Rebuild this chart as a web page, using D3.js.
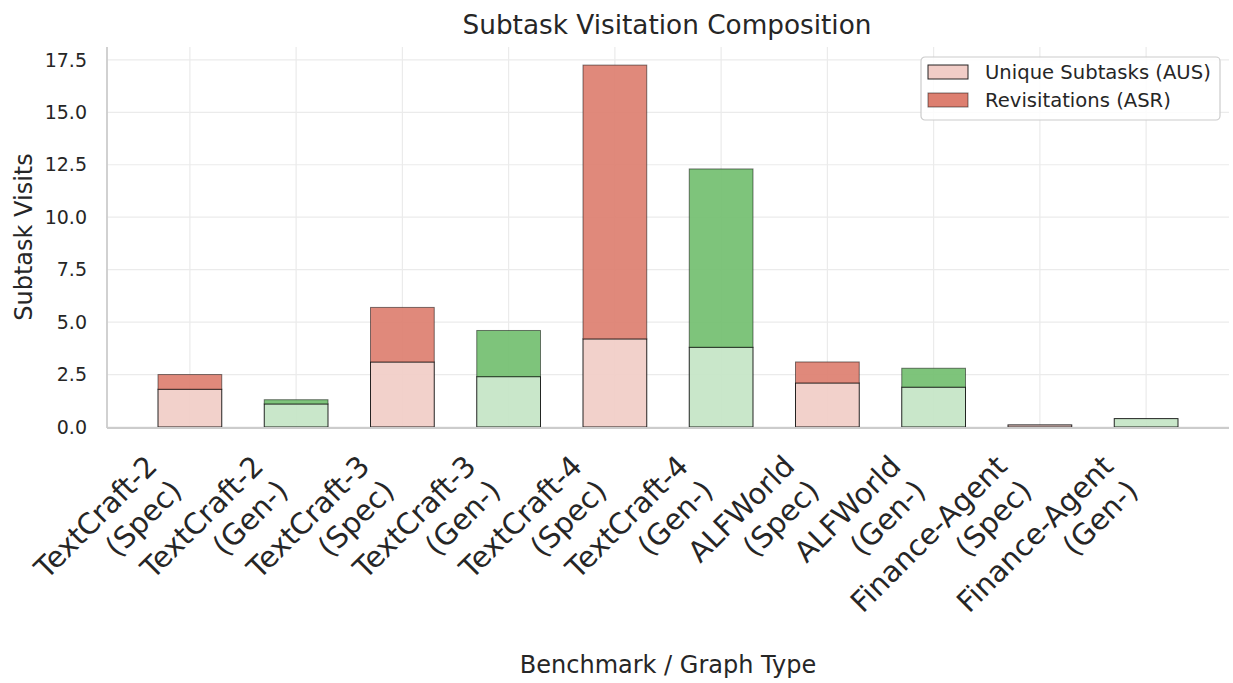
<!DOCTYPE html>
<html>
<head>
<meta charset="utf-8">
<script src="https://cdn.jsdelivr.net/npm/d3@7"></script>
<style>
  body { margin: 0; background: #fff; }
  text { font-family: "DejaVu Sans", sans-serif; fill: #262626; }
</style>
</head>
<body>
<div id="chart"></div>
<script>
// Benchmarks, one bar each
const BENCHMARKS = ['TextCraft-2', 'TextCraft-2', 'TextCraft-3', 'TextCraft-3', 'TextCraft-4',
                    'TextCraft-4', 'ALFWorld', 'ALFWorld', 'Finance-Agent', 'Finance-Agent'];
const GRAPH_TYPES = ['(Spec)', '(Gen-)', '(Spec)', '(Gen-)', '(Spec)', '(Gen-)', '(Spec)', '(Gen-)', '(Spec)', '(Gen-)'];
// Unique subtasks (AUS) and revisitations (ASR), stacked
const UNIQUE = [1.8, 1.1, 3.1, 2.4, 4.2, 3.8, 2.1, 1.9, 0.1, 0.4];
const REVISITS = [0.7, 0.2, 2.6, 2.2, 13.05, 8.5, 1.0, 0.9, 0.0, 0.0];
const Y_TICKS = [0, 2.5, 5, 7.5, 10, 12.5, 15, 17.5];
const LEGEND_LABELS = ['Unique Subtasks (AUS)', 'Revisitations (ASR)'];

const WIDTH = 1233, HEIGHT = 683;
const PLOT = {left: 107, right: 1229, top: 47, bottom: 427};
const BAR_WIDTH = 0.6;

// Colours: [unique, revisit] for Spec and Gen graphs
const COLORS = {
	'(Spec)': ['#f1cdc7', '#dd7f70'],
	'(Gen-)': ['#c4e5c5', '#73bf70']
};
const FILL_OPACITY = 0.92;

const svg = d3.select('#chart').append('svg')
	.attr('width', WIDTH)
	.attr('height', HEIGHT);

const n = BENCHMARKS.length;
const totals = UNIQUE.map((u, i) => u + REVISITS[i]);

// x scale on bar index, matplotlib-like margins
const xPad = (n - 1 + BAR_WIDTH) * 0.05 + BAR_WIDTH / 2;
const xScale = d3.scaleLinear()
	.domain([-xPad, n - 1 + xPad])
	.range([PLOT.left, PLOT.right]);

const yScale = d3.scaleLinear()
	.domain([0, d3.max(totals) * 1.05])
	.range([PLOT.bottom, PLOT.top]);

const bw = xScale(BAR_WIDTH) - xScale(0);

// Grid
svg.append('g')
	.selectAll('line')
	.data(Y_TICKS)
	.enter()
	.append('line')
	.attr('x1', PLOT.left).attr('x2', PLOT.right)
	.attr('y1', d => yScale(d)).attr('y2', d => yScale(d))
	.attr('stroke', '#ebebeb')
	.attr('stroke-width', 1.2);

svg.append('g')
	.selectAll('line')
	.data(d3.range(n))
	.enter()
	.append('line')
	.attr('x1', d => xScale(d)).attr('x2', d => xScale(d))
	.attr('y1', PLOT.top).attr('y2', PLOT.bottom)
	.attr('stroke', '#ebebeb')
	.attr('stroke-width', 1.2);

// Bars: unique at the bottom, revisits on top
const bars = svg.append('g');
bars.selectAll('.unique')
	.data(d3.range(n))
	.enter()
	.append('rect')
	.attr('class', 'unique')
	.attr('x', i => xScale(i) - bw / 2)
	.attr('width', bw)
	.attr('y', i => yScale(UNIQUE[i]))
	.attr('height', i => yScale(0) - yScale(UNIQUE[i]))
	.attr('fill', i => COLORS[GRAPH_TYPES[i]][0])
	.attr('fill-opacity', FILL_OPACITY)
	.attr('stroke', '#000')
	.attr('stroke-opacity', 0.85)
	.attr('stroke-width', 1);

bars.selectAll('.revisit')
	.data(d3.range(n))
	.enter()
	.append('rect')
	.attr('class', 'revisit')
	.attr('x', i => xScale(i) - bw / 2)
	.attr('width', bw)
	.attr('y', i => yScale(totals[i]))
	.attr('height', i => yScale(UNIQUE[i]) - yScale(totals[i]))
	.attr('fill', i => COLORS[GRAPH_TYPES[i]][1])
	.attr('fill-opacity', FILL_OPACITY)
	.attr('stroke', '#000')
	.attr('stroke-opacity', 0.5)
	.attr('stroke-width', 1);

// Spines (left and bottom only)
svg.append('line')
	.attr('x1', PLOT.left).attr('x2', PLOT.left)
	.attr('y1', PLOT.top).attr('y2', PLOT.bottom + 1)
	.attr('stroke', '#cccccc').attr('stroke-width', 1.8);
svg.append('line')
	.attr('x1', PLOT.left).attr('x2', PLOT.right)
	.attr('y1', PLOT.bottom + 1).attr('y2', PLOT.bottom + 1)
	.attr('stroke', '#cccccc').attr('stroke-width', 1.8);

// Y tick labels
svg.append('g')
	.selectAll('text')
	.data(Y_TICKS)
	.enter()
	.append('text')
	.attr('x', 87)
	.attr('y', d => yScale(d))
	.attr('dy', '0.35em')
	.attr('text-anchor', 'end')
	.style('font-size', '19px')
	.text(d => d.toFixed(1));

// X tick labels, two right-aligned lines, rotated 45 degrees
const TICK_FONT = 29;
const LINE_GAP = 1.2 * TICK_FONT;
const xLabels = svg.append('g')
	.selectAll('text')
	.data(d3.range(n))
	.enter()
	.append('text')
	.attr('text-anchor', 'end')
	.attr('transform', i => `translate(${xScale(i) - 31}, ${PLOT.bottom + 41}) rotate(-45)`)
	.style('font-size', TICK_FONT + 'px');
xLabels.append('tspan').attr('x', 0).attr('y', 0).text(i => BENCHMARKS[i]);
xLabels.append('tspan').attr('x', 0).attr('y', LINE_GAP).text(i => GRAPH_TYPES[i]);

// Axis labels and title
svg.append('text')
	.attr('x', (PLOT.left + PLOT.right) / 2)
	.attr('y', 673)
	.attr('text-anchor', 'middle')
	.style('font-size', '24px')
	.text('Benchmark / Graph Type');

svg.append('text')
	.attr('transform', `translate(32, ${(PLOT.top + PLOT.bottom) / 2}) rotate(-90)`)
	.attr('text-anchor', 'middle')
	.style('font-size', '24px')
	.text('Subtask Visits');

svg.append('text')
	.attr('x', (PLOT.left + PLOT.right) / 2 - 1)
	.attr('y', 34)
	.attr('text-anchor', 'middle')
	.style('font-size', '26.3px')
	.text('Subtask Visitation Composition');

// Legend
const legend = svg.append('g').attr('transform', 'translate(921, 57)');
legend.append('rect')
	.attr('width', 299).attr('height', 63)
	.attr('rx', 4)
	.attr('fill', '#fff').attr('fill-opacity', 0.85)
	.attr('stroke', '#cccccc').attr('stroke-width', 1.2);

const entries = legend.selectAll('.entry')
	.data(LEGEND_LABELS)
	.enter()
	.append('g')
	.attr('class', 'entry')
	.attr('transform', (d, i) => `translate(7, ${8 + i * 28})`);
entries.append('rect')
	.attr('width', 40).attr('height', 14)
	.attr('fill', (d, i) => COLORS['(Spec)'][i])
	.attr('stroke', '#000')
	.attr('stroke-opacity', (d, i) => i === 0 ? 0.85 : 0.5);
entries.append('text')
	.attr('x', 57)
	.attr('y', 7)
	.attr('dy', '0.35em')
	.style('font-size', '19.6px')
	.text(d => d);
</script>
</body>
</html>
